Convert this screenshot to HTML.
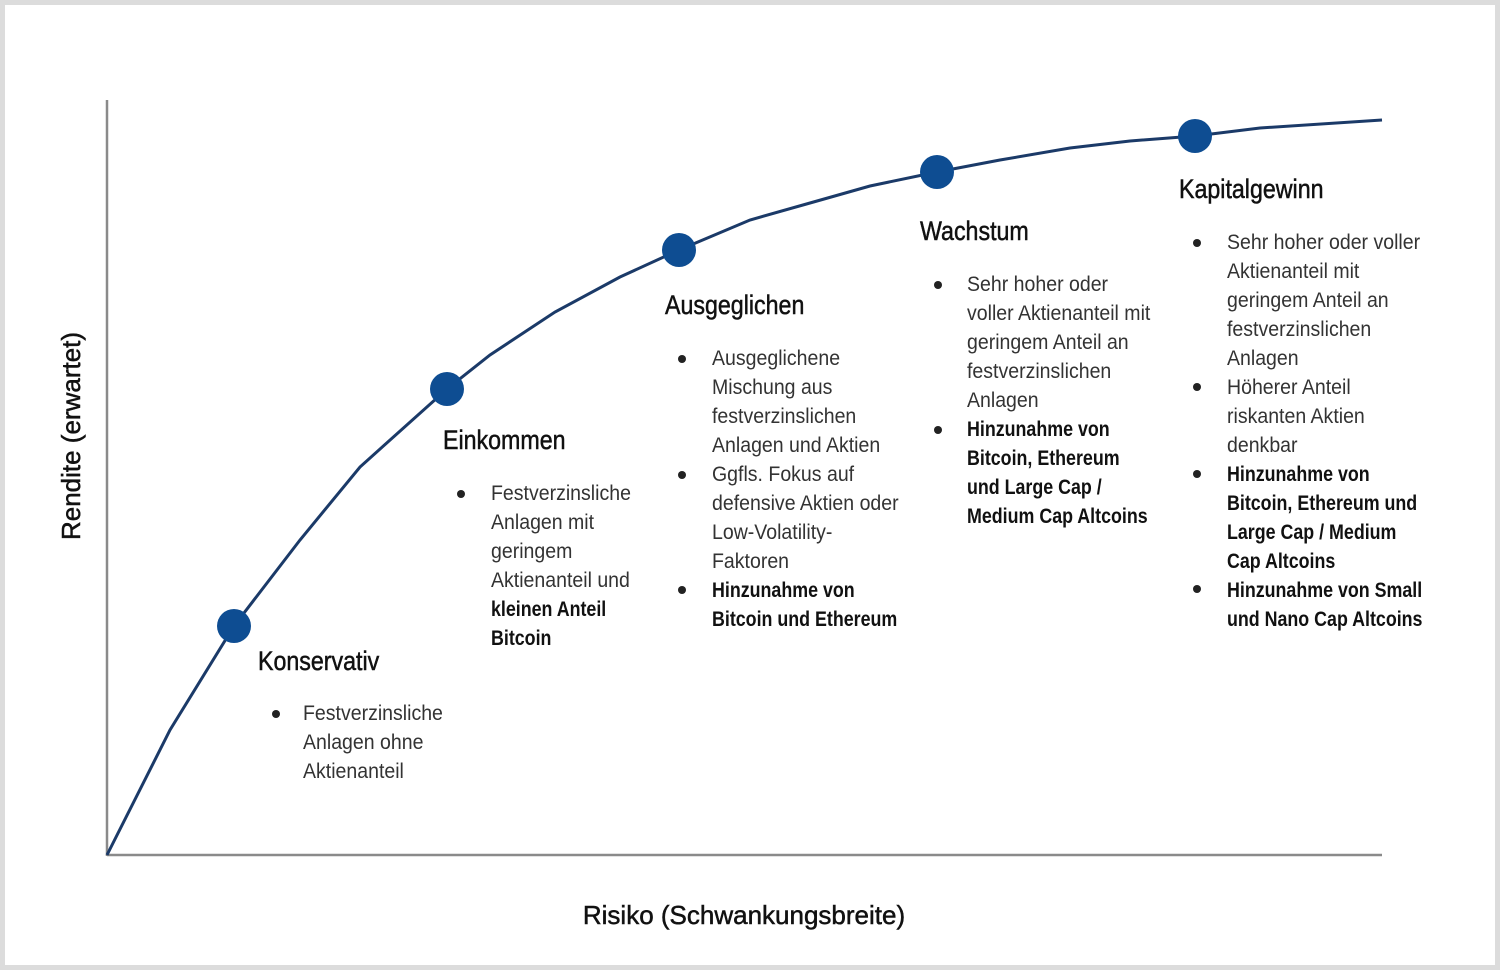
<!DOCTYPE html>
<html><head><meta charset="utf-8"><style>
html,body{margin:0;padding:0;background:#fff}
svg{display:block}
text{font-family:"Liberation Sans",sans-serif}
.h{font-size:27px;fill:#111;stroke:#111;stroke-width:0.5}
.b{font-size:21px;fill:#333}
.s{font-size:21px;fill:#111;font-weight:bold}
</style></head><body>
<svg width="1500" height="970" viewBox="0 0 1500 970" xmlns="http://www.w3.org/2000/svg">
<rect x="0" y="0" width="1500" height="970" fill="#fff"/>
<rect x="2.5" y="2.5" width="1495" height="965" fill="none" stroke="#dcdcdc" stroke-width="5"/>
<line x1="107" y1="100" x2="107" y2="856" stroke="#8a8a8a" stroke-width="2.5"/>
<line x1="107" y1="855" x2="1382" y2="855" stroke="#8a8a8a" stroke-width="2.5"/>
<polyline fill="none" stroke="#1b3a68" stroke-width="3" points="107,855 170,730 234,626 300,540 360,467 447,389 490,355 555,312 620,277 679,250 750,220 810,203 870,186 937,172 1000,160 1070,148 1130,141 1195,136 1260,128 1382,120"/>
<g fill="#0e4d92">
<circle cx="234" cy="626" r="17"/><circle cx="447" cy="389" r="17"/><circle cx="679" cy="250" r="17"/><circle cx="937" cy="172" r="17"/><circle cx="1195" cy="136" r="17"/>
</g>
<text x="80" y="436" class="h" text-anchor="middle" transform="rotate(-90 80 436)" style="font-size:26px">Rendite (erwartet)</text>
<text x="744" y="924" class="h" text-anchor="middle" style="font-size:26px">Risiko (Schwankungsbreite)</text>

<g fill="#222">
<circle cx="276" cy="714" r="4"/>
<circle cx="461" cy="494" r="4"/>
<circle cx="682" cy="359" r="4"/><circle cx="682" cy="475" r="4"/><circle cx="682" cy="590" r="4"/>
<circle cx="938" cy="285" r="4"/><circle cx="938" cy="430" r="4"/>
<circle cx="1197" cy="243" r="4"/><circle cx="1197" cy="387" r="4"/><circle cx="1197" cy="474" r="4"/><circle cx="1197" cy="589" r="4"/>
</g>

<g transform="translate(258,0) scale(0.86,1) translate(-258,0)"><text x="258" y="670" class="h">Konservativ</text></g>
<g transform="translate(303,0) scale(0.93,1) translate(-303,0)"><text class="b"><tspan x="303" y="720">Festverzinsliche</tspan><tspan x="303" y="749">Anlagen ohne</tspan><tspan x="303" y="778">Aktienanteil</tspan></text></g>

<g transform="translate(443,0) scale(0.86,1) translate(-443,0)"><text x="443" y="449" class="h">Einkommen</text></g>
<g transform="translate(491,0) scale(0.93,1) translate(-491,0)"><text class="b"><tspan x="491" y="500">Festverzinsliche</tspan><tspan x="491" y="529">Anlagen mit</tspan><tspan x="491" y="558">geringem</tspan><tspan x="491" y="587">Aktienanteil und</tspan></text></g>
<g transform="translate(491,0) scale(0.85,1) translate(-491,0)"><text class="s"><tspan x="491" y="616">kleinen Anteil</tspan><tspan x="491" y="645">Bitcoin</tspan></text></g>

<g transform="translate(665,0) scale(0.86,1) translate(-665,0)"><text x="665" y="314" class="h">Ausgeglichen</text></g>
<g transform="translate(712,0) scale(0.93,1) translate(-712,0)"><text class="b"><tspan x="712" y="365">Ausgeglichene</tspan><tspan x="712" y="394">Mischung aus</tspan><tspan x="712" y="423">festverzinslichen</tspan><tspan x="712" y="452">Anlagen und Aktien</tspan><tspan x="712" y="481">Ggfls. Fokus auf</tspan><tspan x="712" y="510">defensive Aktien oder</tspan><tspan x="712" y="539">Low-Volatility-</tspan><tspan x="712" y="568">Faktoren</tspan></text></g>
<g transform="translate(712,0) scale(0.85,1) translate(-712,0)"><text class="s"><tspan x="712" y="597">Hinzunahme von</tspan><tspan x="712" y="626">Bitcoin und Ethereum</tspan></text></g>

<g transform="translate(920,0) scale(0.86,1) translate(-920,0)"><text x="920" y="240" class="h">Wachstum</text></g>
<g transform="translate(967,0) scale(0.93,1) translate(-967,0)"><text class="b"><tspan x="967" y="291">Sehr hoher oder</tspan><tspan x="967" y="320">voller Aktienanteil mit</tspan><tspan x="967" y="349">geringem Anteil an</tspan><tspan x="967" y="378">festverzinslichen</tspan><tspan x="967" y="407">Anlagen</tspan></text></g>
<g transform="translate(967,0) scale(0.85,1) translate(-967,0)"><text class="s"><tspan x="967" y="436">Hinzunahme von</tspan><tspan x="967" y="465">Bitcoin, Ethereum</tspan><tspan x="967" y="494">und Large Cap /</tspan><tspan x="967" y="523">Medium Cap Altcoins</tspan></text></g>

<g transform="translate(1179,0) scale(0.86,1) translate(-1179,0)"><text x="1179" y="198" class="h">Kapitalgewinn</text></g>
<g transform="translate(1227,0) scale(0.93,1) translate(-1227,0)"><text class="b"><tspan x="1227" y="249">Sehr hoher oder voller</tspan><tspan x="1227" y="278">Aktienanteil mit</tspan><tspan x="1227" y="307">geringem Anteil an</tspan><tspan x="1227" y="336">festverzinslichen</tspan><tspan x="1227" y="365">Anlagen</tspan><tspan x="1227" y="394">Höherer Anteil</tspan><tspan x="1227" y="423">riskanten Aktien</tspan><tspan x="1227" y="452">denkbar</tspan></text></g>
<g transform="translate(1227,0) scale(0.85,1) translate(-1227,0)"><text class="s"><tspan x="1227" y="481">Hinzunahme von</tspan><tspan x="1227" y="510">Bitcoin, Ethereum und</tspan><tspan x="1227" y="539">Large Cap / Medium</tspan><tspan x="1227" y="568">Cap Altcoins</tspan><tspan x="1227" y="597">Hinzunahme von Small</tspan><tspan x="1227" y="626">und Nano Cap Altcoins</tspan></text></g>
</svg>
</body></html>
